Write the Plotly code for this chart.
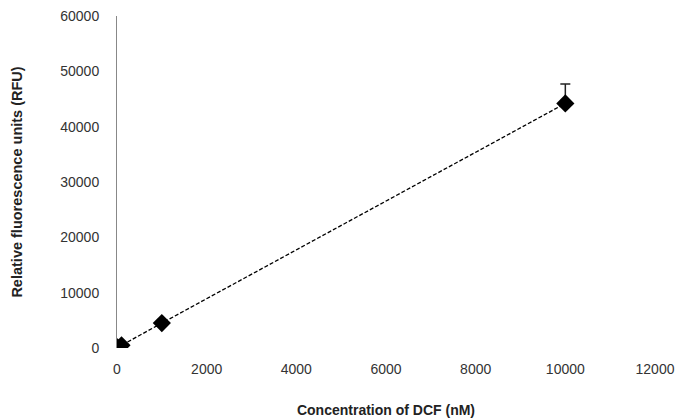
import plotly.graph_objects as go

conc = [0, 10, 100, 1000, 10000]
rfu = [50, 120, 480, 4500, 44200]
err = [100, 100, 150, 400, 3500]
x_ticks = [0, 2000, 4000, 6000, 8000, 10000, 12000]
y_ticks = [0, 10000, 20000, 30000, 40000, 50000, 60000]

fig = go.Figure()
fig.add_trace(go.Scatter(
    x=conc, y=rfu, mode="lines+markers",
    line=dict(color="black", width=1.3, dash="4px,2px"),
    marker=dict(symbol="diamond", size=14, color="black"),
    error_y=dict(type="data", array=err, arrayminus=[0]*len(err), visible=True,
                 color="#222", thickness=1.5, width=5),
    showlegend=False,
))

font = "Liberation Sans, Arial, sans-serif"
fig.update_layout(
    width=680, height=419,
    margin=dict(l=117, r=25, t=16, b=71),
    paper_bgcolor="white", plot_bgcolor="white",
    font=dict(family=font, size=14, color="#222"),
    xaxis=dict(range=[0, 12000], tickvals=x_ticks, ticktext=[str(v) for v in x_ticks],
               showgrid=False, zeroline=False, showline=False, automargin=False,
               tickfont=dict(size=14, color="#333"), ticklen=0, ticklabelstandoff=11,
               title=dict(text="<b>Concentration of DCF (nM)</b>", font=dict(size=14, color="#222"), standoff=29)),
    yaxis=dict(range=[0, 60000], tickvals=y_ticks, ticktext=[str(v) for v in y_ticks],
               showgrid=False, zeroline=False, showline=True, linecolor="#888", linewidth=1,
               automargin=False,
               tickfont=dict(size=14, color="#333"), ticklen=0, ticks="", ticklabelstandoff=14,
               title=dict(text="<b>Relative fluorescence units (RFU)</b>", font=dict(size=14.5, color="#222"), standoff=34)),
)
fig.write_html("out.html")
